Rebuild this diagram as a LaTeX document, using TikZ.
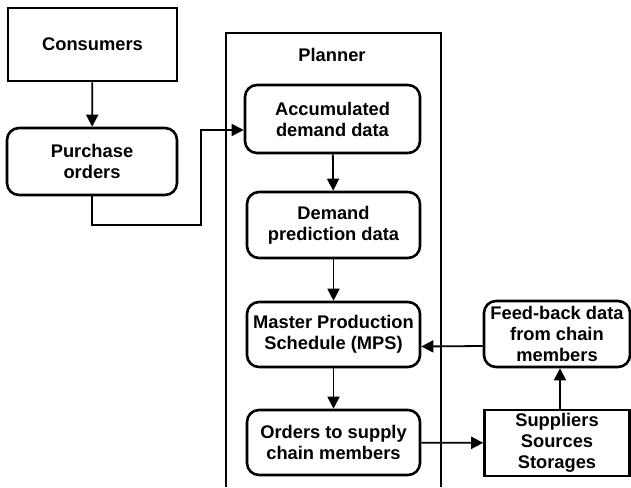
\documentclass[tikz,border=0pt]{standalone}
\usepackage{fontspec}
\setmainfont{Liberation Sans}
\usetikzlibrary{arrows.meta}
\tikzstyle{box} = [draw=black, line width=2.6pt, align=center, inner sep=0pt, font={\fontsize{18.3}{21}\selectfont\bfseries}]
\tikzstyle{rbox} = [box, rounded corners=12pt]
\tikzstyle{arr} = [-{Triangle[length=12pt,width=12pt]}, line width=1.8pt]
\tikzstyle{planner} = [draw=black, line width=1.7pt]

\begin{document}
\begin{tikzpicture}[x=1pt,y=-1pt]
        \useasboundingbox (0,0) rectangle (631,487);
        \draw[planner](226,487)|-(441,33)--(441,487);
        \node[font={\fontsize{18.3}{21}\selectfont\bfseries}](plan) at (332,55){Planner};
        \node[box,minimum width=169pt,minimum height=73pt](cons) at (92.5,44.5){Consumers};
        \node[rbox,minimum width=170pt,minimum height=67pt](purch) at (92,161.5){Purchase\\orders};
        \node[rbox,minimum width=175pt,minimum height=68pt](accum) at (332.5,119){Accumulated\\demand data};
        \node[rbox,minimum width=173pt,minimum height=66pt](pred) at (333.5,225){Demand\\prediction data};
        \node[rbox,minimum width=173pt,minimum height=65pt](mps) at (333.5,334.5){Master Production\\Schedule (MPS)};
        \node[rbox,minimum width=173pt,minimum height=65pt](ord) at (333.5,442.5){Orders to supply\\chain members};
        \node[rbox,minimum width=146pt,minimum height=66pt](fb) at (557,334){Feed-back data\\from chain\\members};
        \node[box,minimum width=145pt,minimum height=66pt](sup) at (557,443){Suppliers\\Sources\\Storages};
        \draw[arr](cons)--(purch);
        \draw[arr](purch.south)|-(201,225)|-([yshift=-11pt]accum.west);
        \draw[arr](accum)--(pred);
        \draw[arr](pred)--(mps);
        \draw[arr](mps)--(ord);
        \draw[arr](ord)--(sup);
        \draw[arr]([xshift=3pt]sup.north)--([xshift=3pt]fb.south);
        \draw[arr]([yshift=-12pt]fb.west)--([yshift=-12pt]mps.east);
      \end{tikzpicture}
\end{document}
